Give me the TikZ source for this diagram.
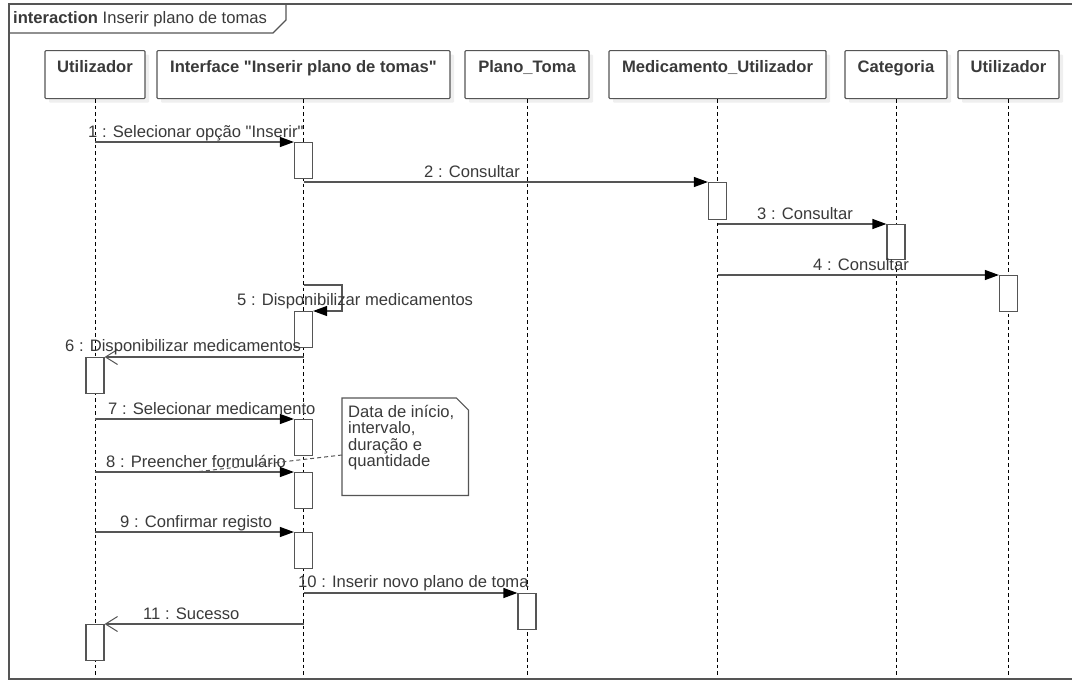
\documentclass[tikz,border=0pt]{standalone}
\usepackage{fontspec}
\setmainfont{Liberation Sans}[Ligatures=TeXOff]
\usetikzlibrary{arrows.meta,shadows,calc}
\definecolor{ln}{HTML}{555555}
\definecolor{tx}{HTML}{3A3A3A}
\begin{document}
\begin{tikzpicture}[x=1pt,y=-1pt,
  every node/.style={font=\fontsize{16.6}{16.6}\selectfont, text=tx},
  lbox/.style={draw=ln, line width=1.2pt, fill=white, rounded corners=1pt, anchor=north,
    inner xsep=0pt, inner ysep=6pt, text height=16pt, text depth=20pt,
    font=\fontsize{16.6}{16.6}\selectfont\bfseries,
    drop shadow={shadow xshift=4pt, shadow yshift=-4pt, fill=black!12}},
  life/.style={line width=1pt, dash pattern=on 3.5pt off 3pt, black},
  act/.style={draw=ln, line width=1.2pt, fill=white, minimum width=18pt, minimum height=36pt, inner sep=0pt, anchor=north},
  msg/.style={draw=ln, line width=1.2pt, -{Triangle[length=14pt,width=10pt,fill=black,color=black]}},
  ret/.style={draw=ln, line width=1.2pt, -{Straight Barb[length=12pt,width=15pt,line width=1pt]}},
  lab/.style={anchor=base west, inner sep=0pt},
]
\useasboundingbox (0,0) rectangle (1072,681);
\fill[white] (0,0) rectangle (1072,681);
% frame
\draw[ln, line width=1.3pt] (1072,4) -- (9,4) -- (9,679) -- (1072,679);
\draw[ln, line width=1.3pt] (9,33) -- (273,33) -- (286,20) -- (286,4);
\node[anchor=base west, inner sep=0pt] (title) at (13,23) {\textbf{interaction} Inserir plano de tomas};
% lifeline heads
\node[lbox, minimum width=100pt] (u1) at (95,50) {Utilizador};
\node[lbox, minimum width=293pt] (i1) at (303.5,50) {Interface "Inserir plano de tomas"};
\node[lbox, minimum width=124pt] (p1) at (527,50) {Plano\_Toma};
\node[lbox, minimum width=217pt] (m1) at (717.5,50) {Medicamento\_Utilizador};
\node[lbox, minimum width=102pt] (c1) at (896,50) {Categoria};
\node[lbox, minimum width=101pt] (u2) at (1008.5,50) {Utilizador};
% lifelines
\foreach \n in {u1,i1,p1,m1,c1,u2} \draw[life] (\n.south) -- (\n.south |- 0,676);
% activations
\node[act] (a1) at (i1.south |- 0,142) {};
\node[act, minimum height=37pt] (a2) at (m1.south |- 0,182) {};
\node[act, minimum height=35pt] (a3) at (c1.south |- 0,224) {};
\node[act] (a4) at (u2.south |- 0,275) {};
\node[act] (a5) at (i1.south |- 0,311) {};
\node[act] (a6) at (u1.south |- 0,357) {};
\node[act] (a7) at (i1.south |- 0,419) {};
\node[act] (a8) at (i1.south |- 0,472) {};
\node[act] (a9) at (i1.south |- 0,532) {};
\node[act] (a10) at (p1.south |- 0,593) {};
\node[act] (a11) at (u1.south |- 0,624) {};
% messages
\draw[msg] (u1.south |- a1.north) -- (a1.north west);
\draw[msg] (i1.south |- a2.north) -- (a2.north west);
\draw[msg] (m1.south |- a3.north) -- (a3.north west);
\draw[msg] (m1.south |- a4.north) -- (a4.north west);
\coordinate (s5) at (i1.south |- 0,285);
\draw[msg] (s5) -- (342,285) -- (342,311) -- (a5.north east);
\draw[ret] (i1.south |- a6.north) -- (a6.north east);
\draw[msg] (u1.south |- a7.north) -- (a7.north west);
\draw[msg] (u1.south |- a8.north) -- (a8.north west);
\draw[msg] (u1.south |- a9.north) -- (a9.north west);
\draw[msg] (i1.south |- a10.north) -- (a10.north west);
\draw[ret] (i1.south |- a11.north) -- (a11.north east);
% labels
\node[lab] (l1) at (88,137) {1 : Selecionar opção "Inserir"};
\node[lab] (l2) at (424,177) {2 : Consultar};
\node[lab] (l3) at (757,219) {3 : Consultar};
\node[lab] (l4) at (813,270) {4 : Consultar};
\node[lab] (l5) at (237,305) {5 : Disponibilizar medicamentos};
\node[lab] (l6) at (65,351) {6 : Disponibilizar medicamentos};
\node[lab] (l7) at (108,414) {7 : Selecionar medicamento};
\node[lab] (l8) at (106,467) {8 : Preencher formulário};
\node[lab] (l9) at (120,527) {9 : Confirmar registo};
\node[lab] (l10) at (298,587) {10 : Inserir novo plano de toma};
\node[lab] (l11) at (143,619) {11 : Sucesso};
% note
\node[inner sep=0pt, minimum width=126pt, minimum height=97pt, anchor=north west] (n) at (342,398) {};
\draw[ln, line width=1.2pt, fill=white] (n.north west) -- ($(n.north east)+(-12,0)$) -- ($(n.north east)+(0,12)$) -- (n.south east) -- (n.south west) -- cycle;
\node[anchor=north west, align=left, inner sep=0pt, font=\fontsize{16.6}{16.5}\selectfont] (nt) at (348,405) {Data de início,\\intervalo,\\duração e\\quantidade};
\coordinate (na) at (342,455);
\coordinate (c8) at (195,472);
\draw[ln, line width=1pt, dash pattern=on 4pt off 3pt] (na) -- (c8);
\end{tikzpicture}
\end{document}
